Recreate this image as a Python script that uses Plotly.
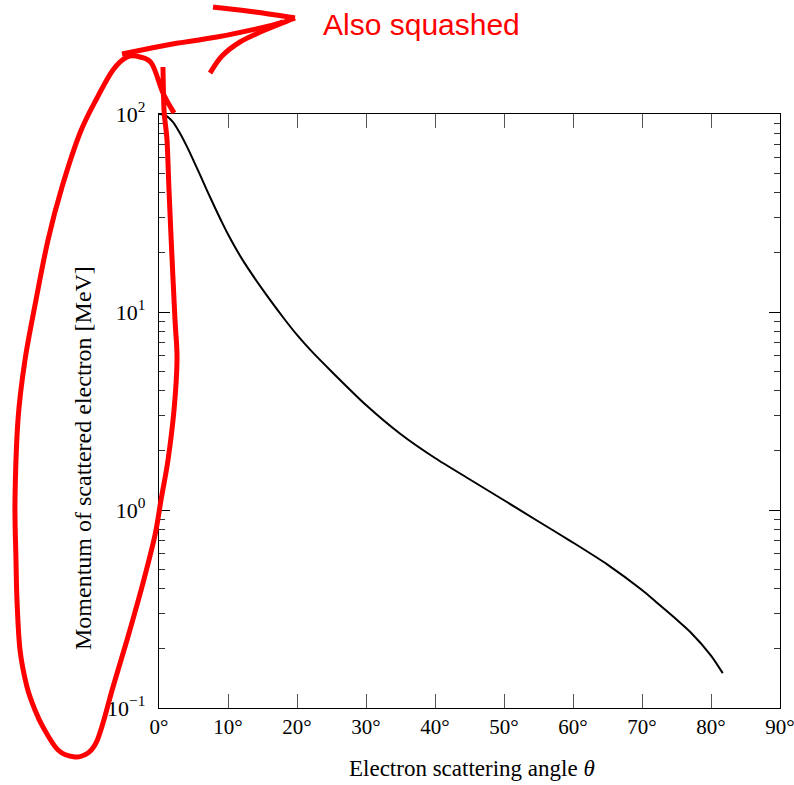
import plotly.graph_objects as go

# ---- data ----
theta_deg = [0, 1, 2, 3, 4, 5, 6, 7, 8, 9, 10, 12, 15, 18, 20, 22, 25, 30,
             35, 40, 45, 50, 55, 60, 65, 70, 72, 75, 77, 80, 81.7]
momentum_mev = [100, 98.2, 91.2, 80.4, 69.0, 58.2, 48.8, 40.8, 34.3, 29.0, 24.7,
                18.6, 13.0, 9.38, 7.66, 6.40, 5.01, 3.39, 2.42, 1.83, 1.43,
                1.12, 0.875, 0.685, 0.53, 0.394, 0.344, 0.280, 0.242, 0.184, 0.150]

x_tickvals = [0, 10, 20, 30, 40, 50, 60, 70, 80, 90]
x_ticktext = ["0°", "10°", "20°", "30°", "40°", "50°", "60°", "70°", "80°", "90°"]
y_tickvals = [0.1, 1, 10, 100]
y_ticktext = ["10<sup>−1</sup>", "10<sup>0</sup>", "10<sup>1</sup>", "10<sup>2</sup>"]
y_minor = [m * d for d in (0.1, 1, 10) for m in range(2, 10)]

x_title = "Electron scattering angle <i>θ</i>"
y_title = "Momentum of scattered electron [MeV]"
note_text = "Also squashed"

# ---- layout geometry (pixels) ----
W, H = 794, 785
L, R, T, B = 159, 14, 114, 77
PW, PH = W - L - R, H - T - B


def px(xp, yp):
    return (xp - L) / PW, (H - B - yp) / PH


def smooth_path(points):
    """Catmull-Rom through the points, written as cubic Bezier segments (paper units)."""
    P = [px(a, b) for a, b in points]
    s = f"M{P[0][0]:.4f},{P[0][1]:.4f}"
    n = len(P)
    for i in range(n - 1):
        p0 = P[i - 1] if i > 0 else P[i]
        p1, p2 = P[i], P[i + 1]
        p3 = P[i + 2] if i + 2 < n else P[i + 1]
        c1 = (p1[0] + (p2[0] - p0[0]) / 6, p1[1] + (p2[1] - p0[1]) / 6)
        c2 = (p2[0] - (p3[0] - p1[0]) / 6, p2[1] - (p3[1] - p1[1]) / 6)
        s += (f" C{c1[0]:.4f},{c1[1]:.4f} {c2[0]:.4f},{c2[1]:.4f} "
              f"{p2[0]:.4f},{p2[1]:.4f}")
    return s


loop_pts = [(174, 113), (163, 93), (152, 64), (140, 57), (127, 57), (113, 70),
            (97, 98), (80, 133), (62, 187), (48, 240), (36, 300), (25, 360),
            (18, 420), (15, 500), (16, 560), (17, 600), (20, 650), (27, 687),
            (35, 710), (43, 727), (58, 750), (75, 757), (88, 753), (96, 743),
            (103, 723), (113, 687), (127, 640), (143, 583), (155, 535),
            (161, 500), (168, 460), (174, 410), (177, 360), (175, 320),
            (172, 257), (169, 190), (167, 140), (164, 110), (163, 67)]
shaft_pts = [(122, 54), (167, 45), (217, 37), (265, 27), (283, 22)]
barb1_pts = [(213, 7), (255, 12), (295, 18)]
barb2_pts = [(295, 18), (265, 30), (240, 42), (222, 56), (210, 73)]

fig = go.Figure()
fig.add_trace(go.Scatter(x=theta_deg, y=momentum_mev, mode="lines",
                         line=dict(color="black", width=2, shape="spline",
                                   smoothing=0.7),
                         showlegend=False, hoverinfo="skip"))

serif = "Liberation Serif"
red_line = dict(color="#ff0000", width=5)
shapes = []
for pts in (loop_pts, shaft_pts, barb1_pts, barb2_pts):
    shapes.append(dict(type="path", xref="paper", yref="paper",
                       path=smooth_path(pts), line=red_line, layer="above"))

nx, ny = px(421, 25)
xtx, xty = px(472, 768)
ytx, yty = px(83, 458)
fig.update_layout(
    width=W, height=H,
    margin=dict(l=L, r=R, t=T, b=B, autoexpand=False),
    paper_bgcolor="white", plot_bgcolor="white",
    font=dict(family=serif, color="black", size=20),
    xaxis=dict(range=[0, 90], tickvals=x_tickvals, ticktext=x_ticktext,
               ticks="inside", ticklen=14, tickwidth=1, tickcolor="#555",
               showline=True, linecolor="black", linewidth=1.3, mirror="ticks",
               showgrid=False, zeroline=False, ticklabeloverflow="allow",
               automargin=False,
               tickfont=dict(family=serif, size=21)),
    yaxis=dict(type="log", range=[-1, 2], tickvals=y_tickvals, ticktext=y_ticktext,
               ticks="inside", ticklen=11, tickwidth=1, tickcolor="black",
               minor=dict(tickvals=y_minor, ticks="inside", ticklen=6,
                          tickwidth=1, tickcolor="#333", showgrid=False),
               showline=True, linecolor="black", linewidth=1.3, mirror="ticks",
               showgrid=False, zeroline=False, ticklabelstandoff=8,
               automargin=False,
               tickfont=dict(family=serif, size=22)),
    shapes=shapes,
    annotations=[
        dict(text=note_text, xref="paper", yref="paper", x=nx, y=ny,
             showarrow=False, xanchor="center", yanchor="middle",
             font=dict(family="Liberation Sans", size=30, color="#ff0000")),
        dict(text=x_title, xref="paper", yref="paper", x=xtx, y=xty,
             showarrow=False, xanchor="center", yanchor="middle",
             font=dict(family=serif, size=23)),
        dict(text=y_title, xref="paper", yref="paper", x=ytx, y=yty,
             showarrow=False, xanchor="center", yanchor="middle", textangle=-90,
             font=dict(family=serif, size=24)),
    ],
)

fig.write_html("out.html")
